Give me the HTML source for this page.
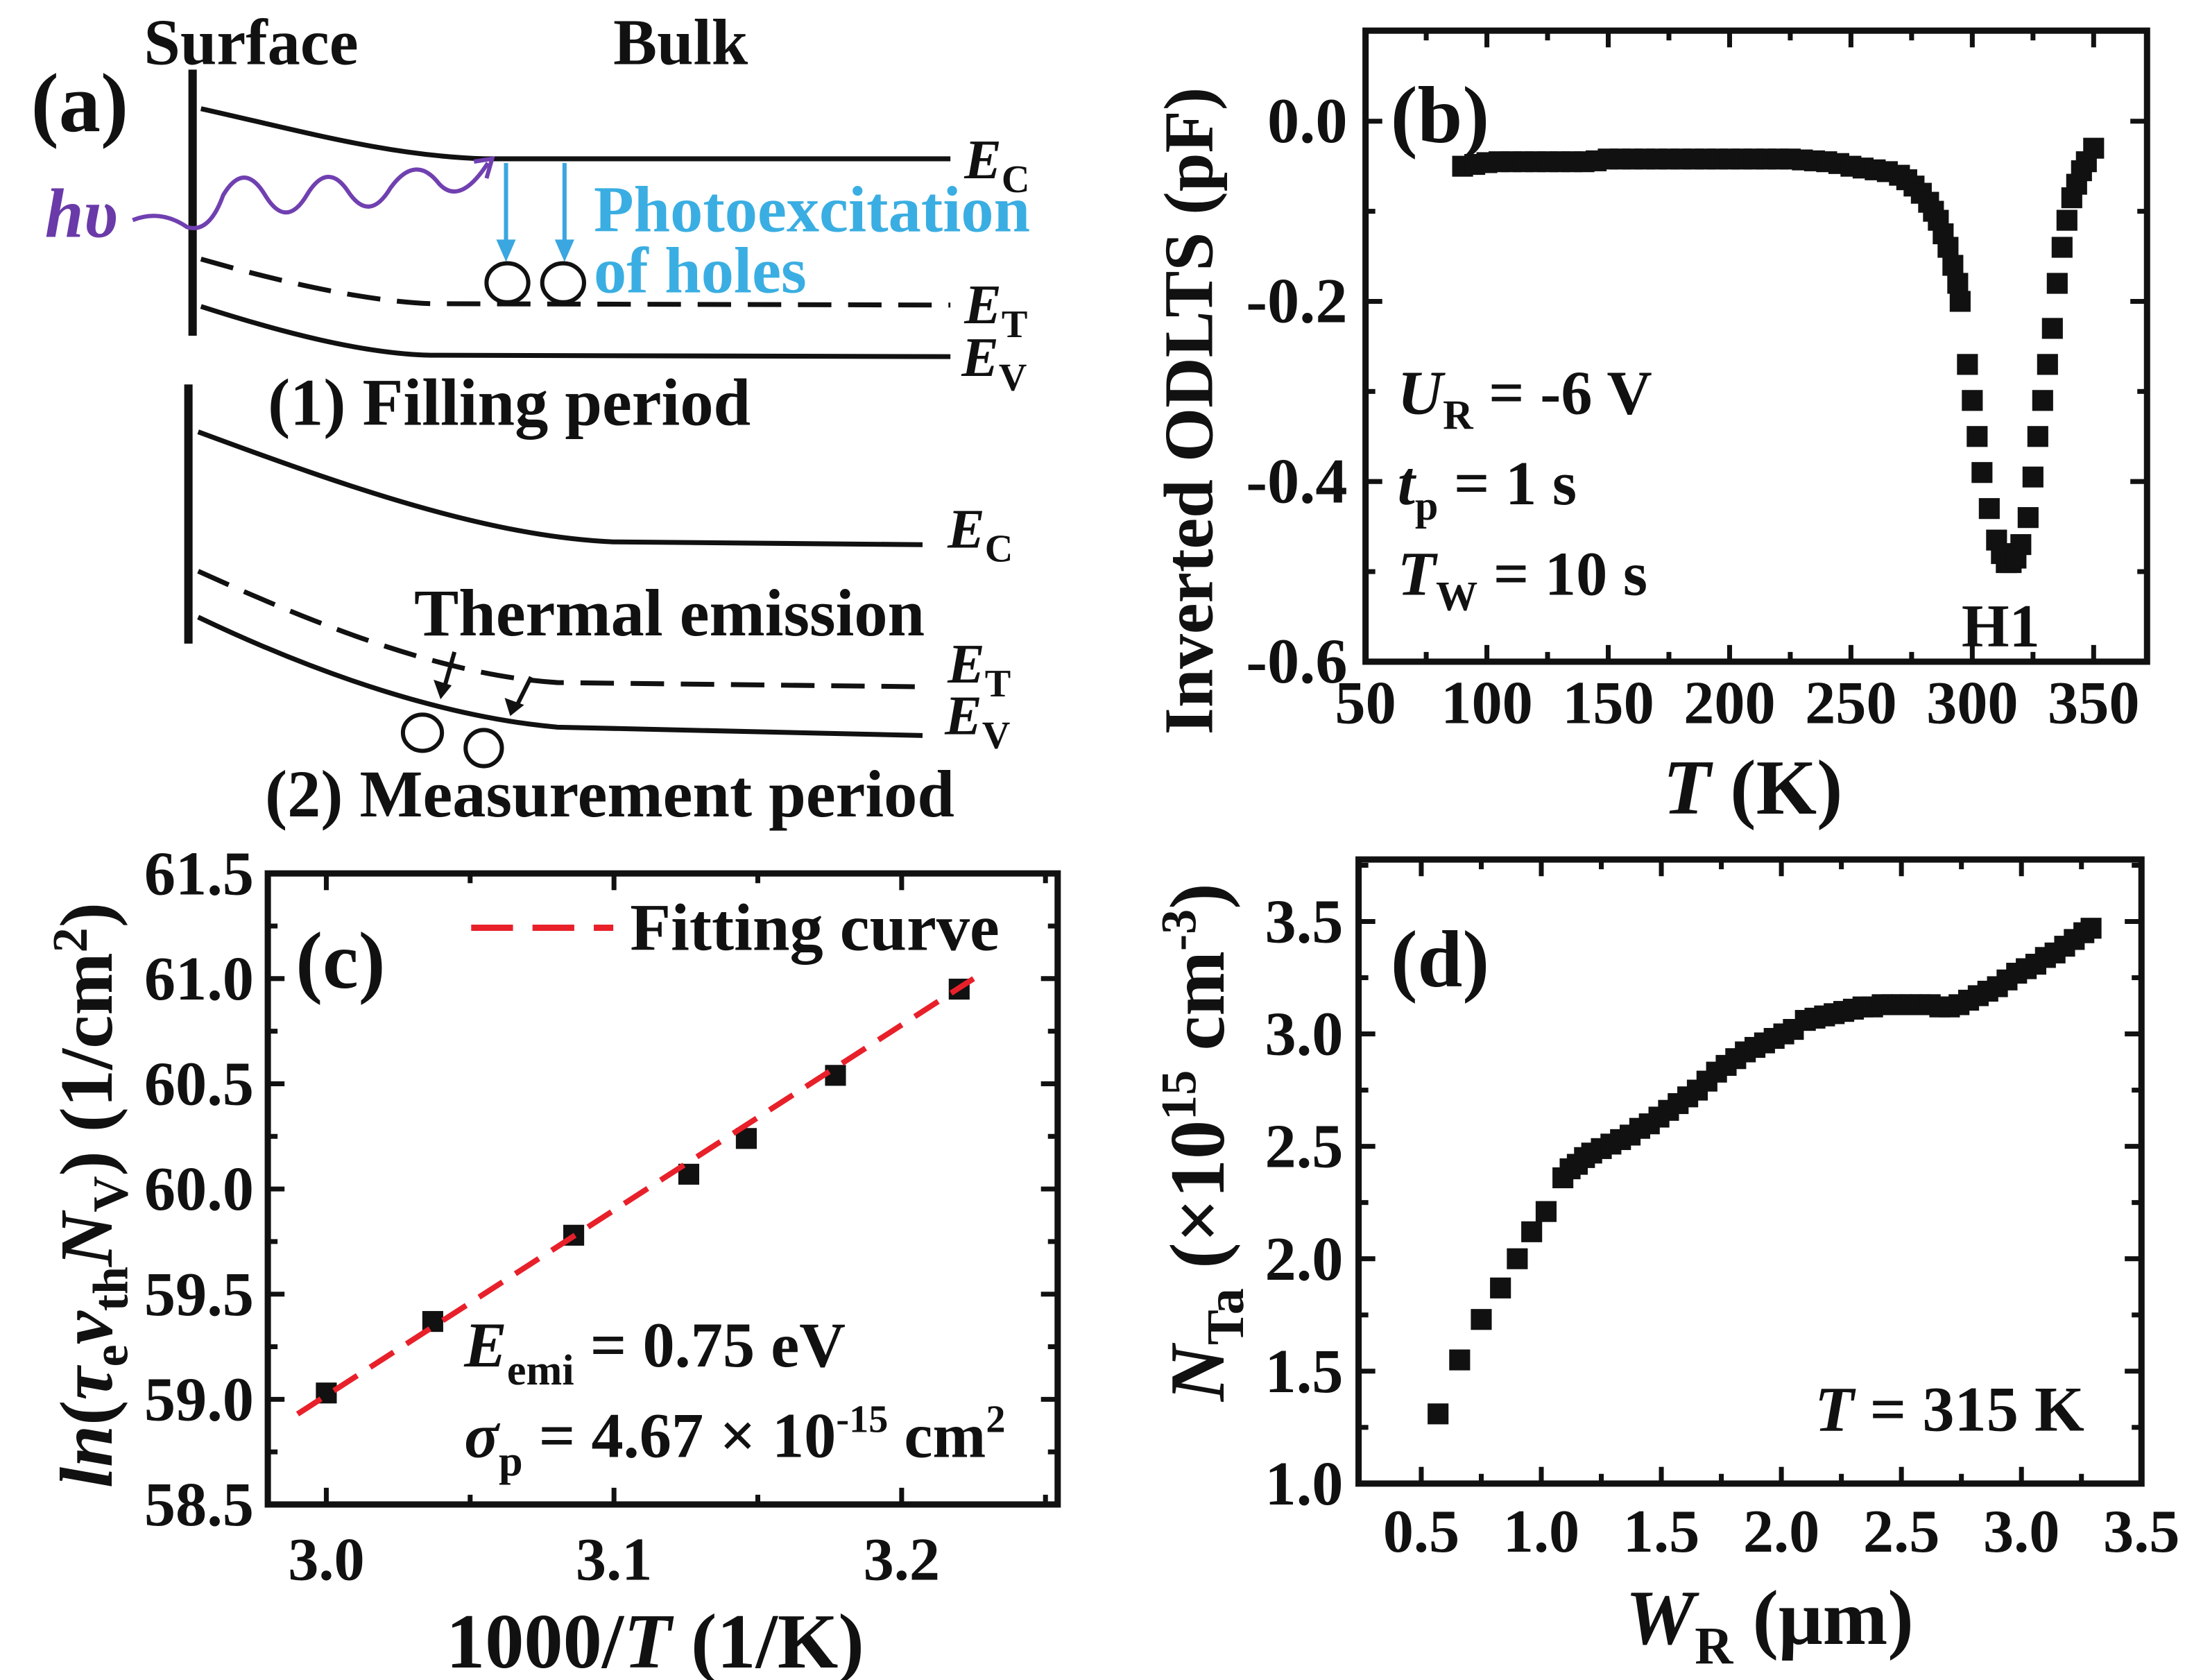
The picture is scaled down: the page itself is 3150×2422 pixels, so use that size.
<!DOCTYPE html>
<html><head><meta charset="utf-8"><style>
html,body{margin:0;padding:0;background:#fff;}
svg{display:block;}
text{font-family:"Liberation Serif",serif;font-weight:bold;fill:#111;}
</style></head><body>
<svg id="fig" xmlns="http://www.w3.org/2000/svg" width="3150" height="2422" viewBox="0 0 1568 1206">
<rect width="1568" height="1206" fill="#fff"/>
<!-- Panel (a) -->
<g fill="none" stroke="#111" stroke-width="3.5">
  <text x="103" y="46" font-size="47" stroke="none">Surface</text>
  <text x="440" y="46" font-size="47" stroke="none">Bulk</text>
  <text x="22" y="94" font-size="60" stroke="none">(a)</text>
  <line x1="138" y1="50" x2="138" y2="241" stroke-width="6"/>
  <path d="M144 78 C 220 95, 280 112, 348 114 L 682 114"/>
  <path d="M144 186 C 200 202, 260 216, 309 218 L 682 219" stroke-dasharray="24 12"/>
  <path d="M144 220 C 200 238, 260 254, 309 255 L 682 256"/>
  <text x="692" y="128" font-size="40" font-style="italic" stroke="none">E<tspan font-size="28" font-style="normal" dy="10">C</tspan></text>
  <text x="692" y="232" font-size="40" font-style="italic" stroke="none">E<tspan font-size="28" font-style="normal" dy="10">T</tspan></text>
  <text x="690" y="270" font-size="40" font-style="italic" stroke="none">E<tspan font-size="28" font-style="normal" dy="10">V</tspan></text>
  <text x="32" y="170" font-size="50" font-style="italic" stroke="none" style="fill:#6a3aa8">hυ</text>
  <path d="M95 158 Q 115 150 134 163 Q 150 168 160 140 Q 175 115 190 140 Q 205 165 220 140 Q 235 115 250 138 Q 265 160 280 135 Q 298 110 315 132 Q 330 148 350 117" stroke="#7040b0" stroke-width="3"/>
  <path d="M340 116 L 353 114 L 349 128" stroke="#7040b0" stroke-width="3"/>
  <line x1="363" y1="117" x2="363" y2="180" stroke="#3aa7e0" stroke-width="3"/>
  <path d="M356 172 L363 188 L370 172 Z" fill="#3aa7e0" stroke="none"/>
  <line x1="405" y1="117" x2="405" y2="180" stroke="#3aa7e0" stroke-width="3"/>
  <path d="M398 172 L405 188 L412 172 Z" fill="#3aa7e0" stroke="none"/>
  <ellipse cx="364" cy="203" rx="15" ry="14" stroke-width="3"/>
  <ellipse cx="404" cy="203" rx="15" ry="14" stroke-width="3"/>
  <text x="426" y="166" font-size="47" stroke="none" style="fill:#3aaee2">Photoexcitation</text>
  <text x="426" y="210" font-size="47" stroke="none" style="fill:#3aaee2">of holes</text>
  <text x="192" y="305" font-size="48" stroke="none">(1) Filling period</text>
  <line x1="135" y1="276" x2="135" y2="462" stroke-width="6"/>
  <path d="M142 310 C 250 350, 350 385, 440 389 L 662 391"/>
  <path d="M142 410 C 230 450, 320 485, 400 490 L 662 493" stroke-dasharray="24 12"/>
  <path d="M142 443 C 230 485, 320 515, 400 522 L 662 528"/>
  <text x="680" y="393" font-size="40" font-style="italic" stroke="none">E<tspan font-size="28" font-style="normal" dy="10">C</tspan></text>
  <text x="680" y="490" font-size="40" font-style="italic" stroke="none">E<tspan font-size="28" font-style="normal" dy="10">T</tspan></text>
  <text x="678" y="527" font-size="40" font-style="italic" stroke="none">E<tspan font-size="28" font-style="normal" dy="10">V</tspan></text>
  <text x="297" y="456" font-size="48" stroke="none">Thermal emission</text>
  <path d="M326 468 L318 496" stroke-width="3"/>
  <path d="M311 488 L316 502 L324 492 Z" fill="#111" stroke="none"/>
  <path d="M381 486 L370 508" stroke-width="3"/>
  <path d="M362 501 L366 514 L376 506 Z" fill="#111" stroke="none"/>
  <ellipse cx="303" cy="526" rx="14" ry="13" stroke-width="3"/>
  <ellipse cx="347" cy="537" rx="13" ry="13" stroke-width="3"/>
  <text x="190" y="586" font-size="48" stroke="none">(2) Measurement period</text>
</g>
<g id="pb"></g>
<g id="pc"></g>
<g id="pd"></g>
</svg>
<script>
// ---------- Panel (b) data ----------
const bTemps = [90,95,100,105,110,115,120,125,130,135,140,145,150,155,160,165,170,175,180,185,190,195,200,205,210,215,220,225,230,235,240,245,250,255,260,265,270,273,276,279,282,284,286,288,290,292,294,295,298,300,302,304,307,310,312,314,316,318,320,323,325,327,329,331,333,335,337,339,341,343,345,347,350];
const bValues = [-0.05,-0.048,-0.046,-0.045,-0.045,-0.045,-0.045,-0.045,-0.045,-0.045,-0.045,-0.044,-0.042,-0.042,-0.042,-0.042,-0.042,-0.042,-0.042,-0.042,-0.042,-0.042,-0.042,-0.042,-0.042,-0.042,-0.042,-0.042,-0.043,-0.044,-0.045,-0.047,-0.05,-0.052,-0.054,-0.056,-0.06,-0.065,-0.072,-0.08,-0.09,-0.1,-0.11,-0.125,-0.14,-0.16,-0.18,-0.2,-0.27,-0.31,-0.35,-0.39,-0.43,-0.465,-0.48,-0.49,-0.49,-0.485,-0.47,-0.44,-0.395,-0.35,-0.31,-0.27,-0.23,-0.18,-0.14,-0.11,-0.085,-0.07,-0.055,-0.045,-0.03];
const bXTicks = [50,100,150,200,250,300,350];
const bYTicks = [0.0,-0.2,-0.4,-0.6];
const bYTickLabels = ["0.0","-0.2","-0.4","-0.6"];
// ---------- Panel (c) data ----------
const cX = [3.0,3.037,3.086,3.126,3.146,3.177,3.22];
const cY = [59.03,59.37,59.78,60.07,60.24,60.54,60.95];
const cFitX = [2.99,3.225];
const cFitY = [58.93,61.0];
const cXTicks = [3.0,3.1,3.2];
const cXTickLabels = ["3.0","3.1","3.2"];
const cYTicks = [58.5,59.0,59.5,60.0,60.5,61.0,61.5];
const cYTickLabels = ["58.5","59.0","59.5","60.0","60.5","61.0","61.5"];
// ---------- Panel (d) data ----------
const dX = [0.57,0.66,0.75,0.83,0.9,0.96,1.02,1.09,1.12,1.15,1.18,1.21,1.25,1.29,1.33,1.37,1.41,1.45,1.49,1.53,1.57,1.61,1.65,1.69,1.73,1.77,1.81,1.85,1.89,1.93,1.97,2.01,2.05,2.1,2.14,2.18,2.22,2.26,2.3,2.34,2.38,2.42,2.46,2.5,2.54,2.58,2.62,2.66,2.7,2.74,2.78,2.82,2.86,2.9,2.94,2.98,3.02,3.06,3.1,3.14,3.18,3.22,3.26,3.29];
const dY = [1.31,1.55,1.73,1.87,2.0,2.12,2.21,2.36,2.4,2.42,2.45,2.47,2.49,2.51,2.53,2.55,2.58,2.6,2.63,2.66,2.69,2.72,2.75,2.79,2.83,2.86,2.89,2.92,2.94,2.96,2.98,3.0,3.02,3.06,3.07,3.08,3.09,3.1,3.11,3.12,3.12,3.13,3.13,3.13,3.13,3.13,3.13,3.12,3.12,3.13,3.15,3.17,3.19,3.21,3.24,3.27,3.29,3.31,3.34,3.36,3.39,3.42,3.45,3.47];
const dXTicks = [0.5,1.0,1.5,2.0,2.5,3.0,3.5];
const dXTickLabels = ["0.5","1.0","1.5","2.0","2.5","3.0","3.5"];
const dYTicks = [1.0,1.5,2.0,2.5,3.0,3.5];
const dYTickLabels = ["1.0","1.5","2.0","2.5","3.0","3.5"];

const NS = "http://www.w3.org/2000/svg";
function mk(parent, tag, attrs){const e=document.createElementNS(NS,tag);for(const k in attrs)e.setAttribute(k,attrs[k]);parent.appendChild(e);return e;}
function scale(d0,d1,r0,r1){return v=>r0+(v-d0)*(r1-r0)/(d1-d0);}

function frame(g,L,T,R,B,xs,ys,xt,xmin,ys2,yt,ymin){
  const drawT=(vals,len,axis)=>{vals.forEach(v=>{
    if(axis==='x'){const x=xs(v);if(x<L+2||x>R-2)return;
      const t1=mk(g,'line',{x1:x,y1:B,x2:x,y2:B-len,stroke:'#111','stroke-width':3.5});
      
      
      const t2=mk(g,'line',{x1:x,y1:T,x2:x,y2:T+len,stroke:'#111','stroke-width':3.5});
      
      
    }else{const y=ys(v);if(y<T+2||y>B-2)return;
      const t1=mk(g,'line',{x1:L,y1:y,x2:L+len,y2:y,stroke:'#111','stroke-width':3.5});
      
      
      const t2=mk(g,'line',{x1:R,y1:y,x2:R-len,y2:y,stroke:'#111','stroke-width':3.5});
      
      
    }});};
  drawT(xt,12,'x');drawT(xmin,7,'x');drawT(yt,12,'y');drawT(ymin,7,'y');
  const r=mk(g,'rect',{x:L,y:T,width:R-L,height:B-T,fill:'none',stroke:'#111','stroke-width':4.5});
  
  
}
function label(g,x,y,txt,size,anchor,name){
  const t=mk(g,'text',{x:x,y:y,'font-size':size,'text-anchor':anchor});
  t.textContent=txt;
  
  
  return t;
}

// ---------- Panel (b) ----------
(function(){
  const g=document.getElementById('pb');
  const L=980,R=1541,T=22,B=475;
  const xs=scale(50,372,L,R), ys=scale(0,-0.6,87,B);
  const minX=[];for(let v=75;v<372;v+=50)minX.push(v);
  const minY=[0.1,-0.1,-0.3,-0.5];
  frame(g,L,T,R,B,xs,ys,bXTicks,minX,null,bYTicks,minY);
  bXTicks.forEach(v=>{label(g,xs(v),519,String(v),44,'middle','x-tick-label');});
  bYTicks.forEach((v,i)=>{label(g,967,ys(v)+15,bYTickLabels[i],46,'end','y-tick-label');});
  bTemps.forEach((t,i)=>{
    const r=mk(g,'rect',{x:xs(t)-7.5,y:ys(bValues[i])-7.5,width:15,height:15,fill:'#111'});
    
    
  });
  label(g,998,102,'(b)',58,'start','panel-b-label');
  const u=label(g,1003,297,'',45,'start','ur-annotation');
  u.innerHTML='<tspan font-style="italic">U</tspan><tspan font-size="30" dy="11">R</tspan><tspan dy="-11"> = -6 V</tspan>';
  const tp=label(g,1003,362,'',45,'start','tp-annotation');
  tp.innerHTML='<tspan font-style="italic">t</tspan><tspan font-size="30" dy="11">p</tspan><tspan dy="-11"> = 1 s</tspan>';
  const tw=label(g,1003,427,'',45,'start','tw-annotation');
  tw.innerHTML='<tspan font-style="italic">T</tspan><tspan font-size="30" dy="11">W</tspan><tspan dy="-11"> = 10 s</tspan>';
  label(g,1436,464,'H1',44,'middle','peak-h1-label');
  const xt=label(g,1258,584,'',56,'middle','x-axis-title');
  xt.innerHTML='<tspan font-style="italic">T</tspan> (K)';
  const yt=label(g,0,0,'Inverted ODLTS (pF)',50,'middle','y-axis-title');
  yt.setAttribute('transform','translate(870,295) rotate(-90)');
})();

// ---------- Panel (c) ----------
(function(){
  const g=document.getElementById('pc');
  const L=192,R=759,T=627,B=1080;
  const xs=scale(3.0,3.2,234,647), ys=scale(58.5,61.5,B,T);
  const minX=[3.05,3.15,3.25];
  const minY=[58.75,59.25,59.75,60.25,60.75,61.25];
  frame(g,L,T,R,B,xs,ys,cXTicks,minX,null,cYTicks,minY);
  cXTicks.forEach((v,i)=>{label(g,xs(v),1134,cXTickLabels[i],44,'middle','x-tick-label');});
  cYTicks.forEach((v,i)=>{label(g,182,ys(v)+15,cYTickLabels[i],45,'end','y-tick-label');});
  cX.forEach((x,i)=>{
    const r=mk(g,'rect',{x:xs(x)-7.5,y:ys(cY[i])-7.5,width:15,height:15,fill:'#111'});
    
    
  });
  const fl=mk(g,'line',{x1:xs(cFitX[0]),y1:ys(cFitY[0]),x2:xs(cFitX[1]),y2:ys(cFitY[1]),stroke:'#e8202a','stroke-width':4,'stroke-dasharray':'20 11'});
  
  
  const ll=mk(g,'line',{x1:338,y1:666,x2:440,y2:666,stroke:'#e8202a','stroke-width':4.5,'stroke-dasharray':'30 14'});
  
  
  label(g,452,682,'Fitting curve',48,'start','legend-fitting-label');
  label(g,212,709,'(c)',58,'start','panel-c-label');
  const e=label(g,333,981,'',46,'start','activation-energy-annotation');
  e.innerHTML='<tspan font-style="italic">E</tspan><tspan font-size="31" dy="13">emi</tspan><tspan dy="-13"> = 0.75 eV</tspan>';
  const s=label(g,333,1046,'',46,'start','cross-section-annotation');
  s.innerHTML='<tspan font-style="italic">σ</tspan><tspan font-size="31" dy="13">p</tspan><tspan dy="-13"> = 4.67 × 10</tspan><tspan font-size="28" dy="-18">-15</tspan><tspan dy="18"> cm</tspan><tspan font-size="28" dy="-18">2</tspan>';
  const xt=label(g,470,1197,'',56,'middle','x-axis-title');
  xt.innerHTML='1000/<tspan font-style="italic">T</tspan> (1/K)';
  const yt=label(g,0,0,'',54,'middle','y-axis-title');
  yt.innerHTML='<tspan font-style="italic">ln</tspan>(<tspan font-style="italic">τ</tspan><tspan font-size="36" dy="11">e</tspan><tspan font-style="italic" dy="-11">v</tspan><tspan font-size="36" dy="11">th</tspan><tspan font-style="italic" dy="-11">N</tspan><tspan font-size="36" dy="11">V</tspan><tspan dy="-11">) (1/cm</tspan><tspan font-size="36" dy="-18">2</tspan><tspan dy="18">)</tspan>';
  yt.setAttribute('transform','translate(80,858) rotate(-90)');
})();

// ---------- Panel (d) ----------
(function(){
  const g=document.getElementById('pd');
  const L=975,R=1537,T=617,B=1065;
  const xs=scale(0.5,3.5,1020,1537), ys=scale(1.0,3.5,B,661.5);
  const minX=[0.75,1.25,1.75,2.25,2.75,3.25];
  const minY=[1.25,1.75,2.25,2.75,3.25,3.75];
  frame(g,L,T,R,B,xs,ys,dXTicks,minX,null,dYTicks,minY);
  dXTicks.forEach((v,i)=>{label(g,xs(v),1114,dXTickLabels[i],44,'middle','x-tick-label');});
  dYTicks.forEach((v,i)=>{label(g,964,ys(v)+15,dYTickLabels[i],45,'end','y-tick-label');});
  dX.forEach((x,i)=>{
    const r=mk(g,'rect',{x:xs(x)-7.5,y:ys(dY[i])-7.5,width:15,height:15,fill:'#111'});
    
    
  });
  label(g,998,708,'(d)',58,'start','panel-d-label');
  const t=label(g,1496,1027,'',46,'end','temperature-annotation');
  t.innerHTML='<tspan font-style="italic">T</tspan> = 315 K';
  const xt=label(g,1270,1180,'',56,'middle','x-axis-title');
  xt.innerHTML='<tspan font-style="italic">W</tspan><tspan font-size="38" dy="14">R</tspan><tspan dy="-14"> (μm)</tspan>';
  const yt=label(g,0,0,'',56,'middle','y-axis-title');
  yt.innerHTML='<tspan font-style="italic">N</tspan><tspan font-size="38" dy="14">Ta</tspan><tspan dy="-14"> (×10</tspan><tspan font-size="36" dy="-20">15</tspan><tspan dy="20"> cm</tspan><tspan font-size="36" dy="-20">-3</tspan><tspan dy="20">)</tspan>';
  yt.setAttribute('transform','translate(878,820) rotate(-90)');
})();
</script>
</body></html>
